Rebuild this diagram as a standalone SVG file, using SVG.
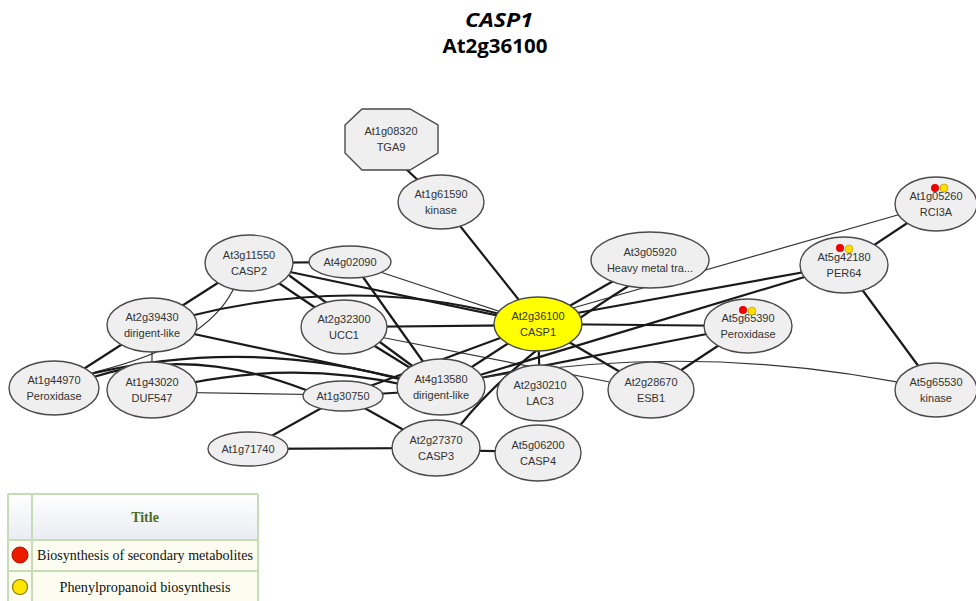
<svg xmlns="http://www.w3.org/2000/svg" width="976" height="601" viewBox="0 0 976 601">
  <style>
    .title { font-family: "Open Sans", "Liberation Sans", sans-serif; font-weight: 700; font-size: 20px; fill: #000; text-anchor: middle; }
    .edge { fill: none; stroke: #1a1a1a; stroke-width: 2.2; stroke-linecap: round; }
    .thin { fill: none; stroke: #333; stroke-width: 1.2; stroke-linecap: round; }
    .node { fill: #efefef; stroke: #4a4a4a; stroke-width: 1.4; }
    .hub { fill: #ffff00; stroke: #4a4a4a; stroke-width: 1.4; }
    .lbl { font-family: "Liberation Sans", Arial, sans-serif; font-size: 11px; fill: #333; text-anchor: middle; }
    .dr { fill: #ee0000; }
    .dy { fill: #ffdd00; stroke: #aa9900; stroke-width: 0.6; }
    .grid { fill: none; stroke: #c6dcb6; stroke-width: 2; }
    .cell { font-family: "Liberation Serif", "Times New Roman", serif; font-size: 14px; fill: #111; text-anchor: middle; }
  </style>
  <defs>
    <linearGradient id="hdr" x1="0" y1="0" x2="0" y2="1">
      <stop offset="0" stop-color="#ffffff"/>
      <stop offset="1" stop-color="#e9ecf2"/>
    </linearGradient>
  </defs>

  <rect width="976" height="601" fill="#ffffff"/>

  <!-- heading -->
  <text class="title" x="499" y="27" font-style="italic" textLength="68" lengthAdjust="spacingAndGlyphs">CASP1</text>
  <text class="title" x="495" y="53" textLength="105" lengthAdjust="spacingAndGlyphs">At2g36100</text>

  <!-- interaction edges -->
  <g id="connectors">
    <line class="edge" x1="405" y1="168" x2="441" y2="202"/>
    <line class="edge" x1="441" y1="202" x2="538" y2="324"/>
    <line class="edge" x1="249" y1="263" x2="350" y2="262"/>
    <line class="edge" x1="249" y1="263" x2="152" y2="325"/>
    <path class="thin" d="M233 290 Q205 345 95 372"/>
    <line class="edge" x1="249" y1="263" x2="344" y2="327"/>
    <path class="edge" d="M290 272 L538 324"/>
    <path class="edge" d="M290 276 L441 387"/>
    <line class="thin" x1="350" y1="262" x2="538" y2="324"/>
    <line class="edge" x1="358" y1="270" x2="441" y2="387"/>
    <line class="edge" x1="152" y1="325" x2="54" y2="388"/>
    <line class="thin" x1="152" y1="325" x2="152" y2="390"/>
    <path class="edge" d="M190 316 Q350 276 500 314"/>
    <line class="edge" x1="152" y1="325" x2="441" y2="387"/>
    <path class="edge" d="M90 378 Q190 345 306 390"/>
    <path class="edge" d="M90 374 Q250 336 410 382"/>
    <path class="edge" d="M190 383 Q300 361 410 386"/>
    <line class="thin" x1="152" y1="392" x2="343" y2="395"/>
    <line class="edge" x1="344" y1="327" x2="538" y2="325"/>
    <line class="edge" x1="344" y1="327" x2="441" y2="387"/>
    <line class="thin" x1="380" y1="337" x2="620" y2="384"/>
    <line class="edge" x1="538" y1="324" x2="650" y2="260"/>
    <line class="edge" x1="538" y1="324" x2="748" y2="326"/>
    <line class="edge" x1="538" y1="320" x2="844" y2="265"/>
    <line class="thin" x1="538" y1="318" x2="936" y2="204"/>
    <line class="edge" x1="538" y1="324" x2="540" y2="393"/>
    <line class="edge" x1="538" y1="324" x2="651" y2="390"/>
    <line class="edge" x1="538" y1="324" x2="441" y2="387"/>
    <line class="edge" x1="538" y1="324" x2="343" y2="396"/>
    <line class="edge" x1="470" y1="378" x2="844" y2="265"/>
    <line class="edge" x1="470" y1="380" x2="748" y2="326"/>
    <path class="thin" d="M470 380 Q700 338 936 390"/>
    <line class="edge" x1="343" y1="396" x2="441" y2="390"/>
    <path class="edge" d="M630 285 Q510 360 458 428"/>
    <line class="edge" x1="748" y1="326" x2="651" y2="390"/>
    <line class="edge" x1="844" y1="265" x2="936" y2="204"/>
    <line class="edge" x1="844" y1="265" x2="936" y2="390"/>
    <line class="edge" x1="343" y1="396" x2="248" y2="449"/>
    <line class="edge" x1="343" y1="396" x2="436" y2="448"/>
    <line class="edge" x1="248" y1="449" x2="436" y2="448"/>
    <line class="edge" x1="436" y1="450" x2="538" y2="452"/>
  </g>

  <!-- proteins -->
  <g id="At1g08320">
    <polygon class="node" points="362,109 410,109 438,125 438,153 410,170 362,170 345,153 345,125"/>
    <text class="lbl" x="391" y="135">At1g08320</text>
    <text class="lbl" x="391" y="151">TGA9</text>
  </g>
  <g id="At1g61590">
    <ellipse class="node" cx="441" cy="202" rx="43" ry="27"/>
    <text class="lbl" x="441" y="198">At1g61590</text>
    <text class="lbl" x="441" y="214">kinase</text>
  </g>
  <g id="At3g11550">
    <ellipse class="node" cx="249" cy="263" rx="44" ry="28"/>
    <text class="lbl" x="249" y="259">At3g11550</text>
    <text class="lbl" x="249" y="275">CASP2</text>
  </g>
  <g id="At4g02090">
    <ellipse class="node" cx="350" cy="262" rx="41" ry="16"/>
    <text class="lbl" x="350" y="266">At4g02090</text>
  </g>
  <g id="At2g39430">
    <ellipse class="node" cx="152" cy="325" rx="45" ry="27"/>
    <text class="lbl" x="152" y="321">At2g39430</text>
    <text class="lbl" x="152" y="337">dirigent-like</text>
  </g>
  <g id="At2g32300">
    <ellipse class="node" cx="344" cy="327" rx="43" ry="27"/>
    <text class="lbl" x="344" y="323">At2g32300</text>
    <text class="lbl" x="344" y="339">UCC1</text>
  </g>
  <g id="At2g36100">
    <ellipse class="hub" cx="538" cy="324" rx="44" ry="27"/>
    <text class="lbl" x="538" y="320">At2g36100</text>
    <text class="lbl" x="538" y="336">CASP1</text>
  </g>
  <g id="At3g05920">
    <ellipse class="node" cx="650" cy="260" rx="59" ry="28"/>
    <text class="lbl" x="650" y="256">At3g05920</text>
    <text class="lbl" x="650" y="272">Heavy metal tra...</text>
  </g>
  <g id="At5g42180">
    <ellipse class="node" cx="844" cy="265" rx="44" ry="28"/>
    <text class="lbl" x="844" y="261">At5g42180</text>
    <text class="lbl" x="844" y="277">PER64</text>
    <circle class="dr" cx="840" cy="248" r="4"/>
    <circle class="dy" cx="849" cy="249" r="4"/>
  </g>
  <g id="At1g05260">
    <ellipse class="node" cx="936" cy="204" rx="41" ry="27"/>
    <text class="lbl" x="936" y="200">At1g05260</text>
    <text class="lbl" x="936" y="216">RCI3A</text>
    <circle class="dr" cx="935" cy="188" r="4"/>
    <circle class="dy" cx="944" cy="188" r="4"/>
  </g>
  <g id="At5g65390">
    <ellipse class="node" cx="748" cy="326" rx="44" ry="27"/>
    <text class="lbl" x="748" y="322">At5g65390</text>
    <text class="lbl" x="748" y="338">Peroxidase</text>
    <circle class="dr" cx="743" cy="310" r="4"/>
    <circle class="dy" cx="752" cy="311" r="4"/>
  </g>
  <g id="At2g28670">
    <ellipse class="node" cx="651" cy="390" rx="43" ry="28"/>
    <text class="lbl" x="651" y="386">At2g28670</text>
    <text class="lbl" x="651" y="402">ESB1</text>
  </g>
  <g id="At5g65530">
    <ellipse class="node" cx="936" cy="390" rx="41" ry="27"/>
    <text class="lbl" x="936" y="386">At5g65530</text>
    <text class="lbl" x="936" y="402">kinase</text>
  </g>
  <g id="At1g44970">
    <ellipse class="node" cx="54" cy="388" rx="45" ry="27"/>
    <text class="lbl" x="54" y="384">At1g44970</text>
    <text class="lbl" x="54" y="400">Peroxidase</text>
  </g>
  <g id="At1g43020">
    <ellipse class="node" cx="152" cy="390" rx="45" ry="28"/>
    <text class="lbl" x="152" y="386">At1g43020</text>
    <text class="lbl" x="152" y="402">DUF547</text>
  </g>
  <g id="At1g30750">
    <ellipse class="node" cx="343" cy="396" rx="40" ry="15"/>
    <text class="lbl" x="343" y="400">At1g30750</text>
  </g>
  <g id="At4g13580">
    <ellipse class="node" cx="441" cy="387" rx="44" ry="28"/>
    <text class="lbl" x="441" y="383">At4g13580</text>
    <text class="lbl" x="441" y="399">dirigent-like</text>
  </g>
  <g id="At2g30210">
    <ellipse class="node" cx="540" cy="393" rx="43" ry="28"/>
    <text class="lbl" x="540" y="389">At2g30210</text>
    <text class="lbl" x="540" y="405">LAC3</text>
  </g>
  <g id="At2g27370">
    <ellipse class="node" cx="436" cy="448" rx="44" ry="28"/>
    <text class="lbl" x="436" y="444">At2g27370</text>
    <text class="lbl" x="436" y="460">CASP3</text>
  </g>
  <g id="At5g06200">
    <ellipse class="node" cx="538" cy="453" rx="43" ry="28"/>
    <text class="lbl" x="538" y="449">At5g06200</text>
    <text class="lbl" x="538" y="465">CASP4</text>
  </g>
  <g id="At1g71740">
    <ellipse class="node" cx="248" cy="449" rx="40" ry="17"/>
    <text class="lbl" x="248" y="453">At1g71740</text>
  </g>

  <!-- pathway legend table -->
  <g id="legend">
    <rect x="8" y="494" width="250" height="46" fill="url(#hdr)"/>
    <rect x="8" y="540" width="250" height="62" fill="#fcfdf0"/>
    <path class="grid" d="M8 494 H258 M8 540 H258 M8 571 H258 M8 494 V601 M32 494 V601 M258 494 V601"/>
    <text class="cell" x="145" y="522" font-weight="700" style="fill:#4b6b1d">Title</text>
    <circle cx="20" cy="555" r="8" fill="#ee1a00" stroke="#b01000" stroke-width="1"/>
    <text class="cell" x="145" y="560" textLength="216" lengthAdjust="spacingAndGlyphs">Biosynthesis of secondary metabolites</text>
    <circle cx="20" cy="587" r="7.5" fill="#ffe600" stroke="#8a7a00" stroke-width="1.2"/>
    <text class="cell" x="145" y="592" textLength="171" lengthAdjust="spacingAndGlyphs">Phenylpropanoid biosynthesis</text>
  </g>
</svg>
